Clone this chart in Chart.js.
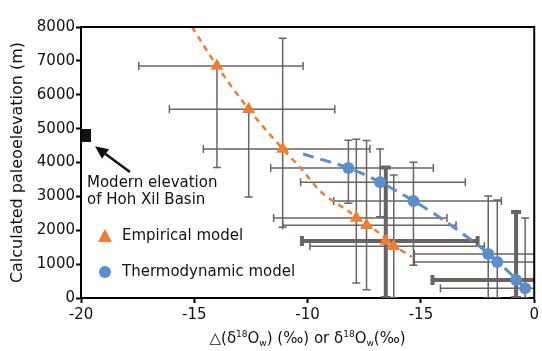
<!DOCTYPE html>
<html>
<head>
<meta charset="utf-8">
<script src="https://cdn.jsdelivr.net/npm/chart.js@4.4.1/dist/chart.umd.min.js"></script>
<style>
  body { margin: 0; background: #fff; }
</style>
</head>
<body>
<canvas id="elevChart" width="542" height="351"></canvas>
<script>
// Empirical model (triangles)
const empX = [-14.0, -12.6, -11.1, -7.85, -7.4, -6.55, -6.2];
const empY = [6850, 5570, 4400, 2360, 2150, 1680, 1530];
const empXMin = [-17.45, -16.1, -14.6, -11.5, -11.1, -10.25, -9.9];
const empXMax = [-10.2, -8.8, -7.25, -3.85, -3.45, -2.5, -2.2];
const empYMin = [3850, 2980, 2090, 440, 240, 0, 0];
const empYMax = [6850, 5570, 7670, 4690, 4650, 3850, 3630];
const empThick = [false, false, false, false, false, true, false];

// Thermodynamic model (circles)
const thermoX = [-8.2, -6.8, -5.33, -2.03, -1.63, -0.8, -0.4];
const thermoY = [3840, 3420, 2860, 1300, 1060, 530, 290];
const thermoXMin = [-11.63, -10.31, -8.85, -5.29, -5.29, -4.49, -4.14];
const thermoXMax = [-4.45, -3.04, -1.45, 1, 1, 1, 1];
const thermoYMin = [2800, 2400, 970, 0, 0, 0, 0];
const thermoYMax = [4660, 4400, 4010, 3010, 2890, 2540, 2360];
const thermoThick = [false, false, false, false, false, true, false];

// Dashed fit curves
const empFitX = [-15.1, -14.0, -12.6, -11.1, -10.35, -9.4, -8.15, -7.0, -6.2, -5.4];
const empFitY = [8000, 6850, 5570, 4400, 3870, 3130, 2540, 2000, 1560, 1210];
const thermoFitX = [-10.2, -8.2, -6.8, -5.3, -4.0, -2.0, -0.2];
const thermoFitY = [4250, 3840, 3420, 2860, 2300, 1300, 180];

// Modern elevation marker and its arrow
const modernX = [-19.75];
const modernY = [4800];
const arrowFrom = [-17.84, 3720];
const arrowTo = [-19.38, 4480];

const xTicks = [-20, -15, -10, -5, 0];
const xTickLabels = ['-20', '-15', '-10', '-15', '0'];

const ORANGE = '#ef7d32';
const BLUE = '#5b8fcb';
const BAR = '#6b6360';
const FONT = '"DejaVu Sans", sans-serif';

function toPoints(xs, ys) {
  return xs.map((x, i) => ({ x: x, y: ys[i] }));
}

// small filled rectangle used as the point style of the modern elevation
const squareMark = document.createElement('canvas');
squareMark.width = 9;
squareMark.height = 13;
const sq = squareMark.getContext('2d');
sq.fillStyle = '#111';
sq.fillRect(0, 0, 9, 13);

// Error bars, drawn under the markers
const errorBarPlugin = {
  id: 'errorBars',
  beforeDatasetsDraw(chart) {
    const { ctx, chartArea, scales } = chart;
    const xs = scales.x;
    const ys = scales.y;
    ctx.save();
    ctx.beginPath();
    ctx.rect(chartArea.left, chartArea.top, chartArea.right - chartArea.left, chartArea.bottom - chartArea.top);
    ctx.clip();
    ctx.strokeStyle = BAR;

    const groups = [
      [empX, empY, empXMin, empXMax, empYMin, empYMax, empThick],
      [thermoX, thermoY, thermoXMin, thermoXMax, thermoYMin, thermoYMax, thermoThick],
    ];
    groups.forEach(([X, Y, x0, x1, y0, y1, thick]) => {
      X.forEach((xv, i) => {
        const px = xs.getPixelForValue(xv);
        const py = ys.getPixelForValue(Y[i]);
        const w = thick[i] ? 4 : 1.5;
        const cap = thick[i] ? 5 : 4;
        ctx.lineWidth = w;
        const l = xs.getPixelForValue(x0[i]);
        const r = xs.getPixelForValue(x1[i]);
        const b = ys.getPixelForValue(y0[i]);
        const t = ys.getPixelForValue(y1[i]);
        ctx.beginPath();
        ctx.moveTo(l, py); ctx.lineTo(r, py);
        ctx.moveTo(px, b); ctx.lineTo(px, t);
        // caps
        ctx.moveTo(l, py - cap); ctx.lineTo(l, py + cap);
        ctx.moveTo(r, py - cap); ctx.lineTo(r, py + cap);
        if (y0[i] !== Y[i]) { ctx.moveTo(px - cap, b); ctx.lineTo(px + cap, b); }
        if (y1[i] !== Y[i]) { ctx.moveTo(px - cap, t); ctx.lineTo(px + cap, t); }
        ctx.stroke();
      });
    });
    ctx.restore();
  },
};

// Frame, arrow, annotation text, legend and the x axis title
const decorPlugin = {
  id: 'decor',
  afterDraw(chart) {
    const { ctx, chartArea, scales } = chart;
    const xs = scales.x;
    const ys = scales.y;
    ctx.save();

    // top and right border
    ctx.strokeStyle = '#000';
    ctx.lineWidth = 2;
    ctx.beginPath();
    ctx.moveTo(chartArea.left, chartArea.top);
    ctx.lineTo(chartArea.right, chartArea.top);
    ctx.lineTo(chartArea.right, chartArea.bottom);
    ctx.stroke();

    // arrow to the modern elevation
    const ax0 = xs.getPixelForValue(arrowFrom[0]);
    const ay0 = ys.getPixelForValue(arrowFrom[1]);
    const ax1 = xs.getPixelForValue(arrowTo[0]);
    const ay1 = ys.getPixelForValue(arrowTo[1]);
    const ang = Math.atan2(ay1 - ay0, ax1 - ax0);
    const headLen = 13;
    const headW = 6;
    const bx = ax1 - Math.cos(ang) * headLen;
    const by = ay1 - Math.sin(ang) * headLen;
    ctx.strokeStyle = '#111';
    ctx.fillStyle = '#111';
    ctx.lineWidth = 2.5;
    ctx.beginPath();
    ctx.moveTo(ax0, ay0);
    ctx.lineTo(bx, by);
    ctx.stroke();
    ctx.beginPath();
    ctx.moveTo(ax1, ay1);
    ctx.lineTo(bx + Math.sin(ang) * headW, by - Math.cos(ang) * headW);
    ctx.lineTo(bx - Math.sin(ang) * headW, by + Math.cos(ang) * headW);
    ctx.closePath();
    ctx.fill();

    // annotation text
    ctx.font = '15px ' + FONT;
    ctx.textAlign = 'left';
    ctx.textBaseline = 'alphabetic';
    ctx.fillStyle = '#111';
    ctx.fillText('Modern elevation', 87, 187);
    ctx.fillText('of Hoh Xil Basin', 87, 204);

    // legend
    ctx.textBaseline = 'middle';
    ctx.fillStyle = ORANGE;
    ctx.beginPath();
    ctx.moveTo(105, 229);
    ctx.lineTo(112, 242);
    ctx.lineTo(98, 242);
    ctx.closePath();
    ctx.fill();
    ctx.fillStyle = BLUE;
    ctx.beginPath();
    ctx.arc(105, 272, 6, 0, Math.PI * 2);
    ctx.fill();
    ctx.fillStyle = '#111';
    ctx.fillText('Empirical model', 122, 236);
    ctx.fillText('Thermodynamic model', 122, 272);

    // x axis title with super and subscripts
    const parts = [
      ['\u25B3', 'main'], ['(\u03B4', 'main'], ['18', 'sup'], ['O', 'main'], ['w', 'sub'],
      [') (\u2030) or \u03B4', 'main'], ['18', 'sup'], ['O', 'main'], ['w', 'sub'], ['(\u2030)', 'main'],
    ];
    const fonts = { main: '15px ' + FONT, sup: '9px ' + FONT, sub: '9px ' + FONT };
    const shift = { main: 0, sup: -6, sub: 3 };
    ctx.textBaseline = 'alphabetic';
    let total = 0;
    parts.forEach(([t, k]) => { ctx.font = fonts[k]; total += ctx.measureText(t).width; });
    let x = (chartArea.left + chartArea.right) / 2 - total / 2;
    const base = 343;
    parts.forEach(([t, k]) => {
      ctx.font = fonts[k];
      ctx.fillText(t, x, base + shift[k]);
      x += ctx.measureText(t).width;
    });

    ctx.restore();
  },
};

function createChart() {
  const ctx = document.getElementById('elevChart').getContext('2d');
  /* global Chart */
  return new Chart(ctx, {
    type: 'scatter',
    data: {
      datasets: [
        {
          label: 'Empirical fit',
          type: 'line',
          data: toPoints(empFitX, empFitY),
          borderColor: ORANGE,
          borderWidth: 2.5,
          borderDash: [6, 5],
          pointRadius: 0,
          tension: 0.3,
          fill: false,
        },
        {
          label: 'Thermodynamic fit',
          type: 'line',
          data: toPoints(thermoFitX, thermoFitY),
          borderColor: BLUE,
          borderWidth: 3,
          borderDash: [11, 7],
          pointRadius: 0,
          tension: 0.3,
          fill: false,
        },
        {
          label: 'Empirical model',
          data: toPoints(empX, empY),
          pointStyle: 'triangle',
          pointRadius: 7.5,
          backgroundColor: ORANGE,
          borderColor: ORANGE,
          borderWidth: 0,
        },
        {
          label: 'Thermodynamic model',
          data: toPoints(thermoX, thermoY),
          pointStyle: 'circle',
          pointRadius: 6,
          backgroundColor: BLUE,
          borderColor: BLUE,
          borderWidth: 0,
        },
        {
          label: 'Modern elevation',
          data: toPoints(modernX, modernY),
          pointStyle: squareMark,
          clip: false,
        },
      ],
    },
    options: {
      responsive: false,
      animation: false,
      layout: { padding: { left: 0, right: 7, top: 27, bottom: 0 } },
      plugins: {
        legend: { display: false },
        tooltip: { enabled: false },
      },
      scales: {
        x: {
          type: 'linear',
          min: -20,
          max: 0,
          afterBuildTicks: (axis) => { axis.ticks = xTicks.map((v) => ({ value: v })); },
          afterFit: (axis) => { axis.height = 53; },
          grid: { display: true, drawOnChartArea: false, drawTicks: true, tickLength: 5, tickWidth: 2, tickColor: '#000' },
          border: { display: true, color: '#000', width: 2 },
          ticks: {
            color: '#111',
            font: { family: FONT, size: 15 },
            padding: 3,
            maxRotation: 0,
            callback: (v) => xTickLabels[xTicks.indexOf(v)],
          },
        },
        y: {
          type: 'linear',
          min: 0,
          max: 8000,
          afterFit: (axis) => { axis.width = 81; },
          grid: { display: true, drawOnChartArea: false, drawTicks: true, tickLength: 5, tickWidth: 2, tickColor: '#000' },
          border: { display: true, color: '#000', width: 2 },
          ticks: {
            stepSize: 1000,
            color: '#111',
            font: { family: FONT, size: 15 },
            padding: 1,
            callback: (v) => String(v),
          },
          title: {
            display: true,
            text: 'Calculated paleoelevation (m)',
            color: '#111',
            font: { family: FONT, size: 16 },
            padding: { top: 8, bottom: 0 },
          },
        },
      },
    },
    plugins: [errorBarPlugin, decorPlugin],
  });
}

createChart();
</script>
</body>
</html>
